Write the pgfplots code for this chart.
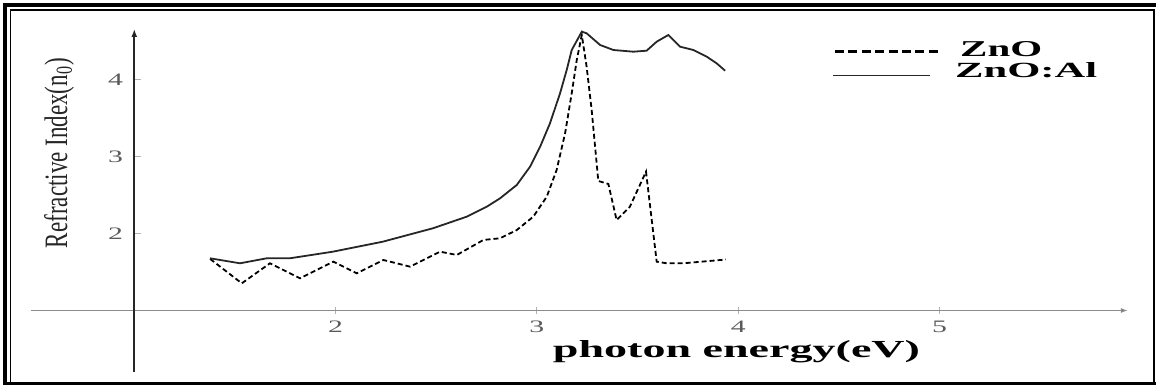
\documentclass[border=0pt]{standalone}
\usepackage{pgfplots}
\pgfplotsset{compat=1.18}
\usepackage{fontspec}
\setmainfont{Liberation Serif}
\usetikzlibrary{arrows.meta}
\newcommand{\tl}[1]{\scalebox{1.7}[1]{\fontsize{17.5pt}{18pt}\selectfont #1}}
\definecolor{tickgray}{HTML}{5A5A5A}
\begin{document}
\begin{tikzpicture}
\begin{scope}[x=1pt,y=1pt]
\useasboundingbox (0,0) rectangle (1156,387);
% double frame
\draw[line width=3.7pt] (1156,381.8) -- (5.2,381.8) -- (5.2,3.5) -- (1156,3.5);
\draw[line width=1.6pt] (10.3,3.5) -- (10.3,376.7) -- (1154.2,376.7) -- (1154.2,3.5);
% y label
\node[rotate=90, anchor=base, inner sep=0pt, text=black!85] at (67,234)
  {\resizebox{190pt}{23pt}{Refractive Index(n\textsubscript{0})}};
% x label
\node[anchor=base, inner sep=0pt] at (736.5,29)
  {\resizebox{367pt}{17pt}{\bfseries photon energy(eV)}};
% legend
\draw[line width=2.3pt, dash pattern=on 9pt off 4.4pt] (835,335.5) -- (942,335.5);
\node[anchor=base west, inner sep=0pt] at (960,330.5) {\resizebox{82pt}{15pt}{\bfseries ZnO}};
\draw[line width=1.5pt, black!85] (833,311.5) -- (930,311.5);
\node[anchor=base west, inner sep=0pt] at (955,309) {\resizebox{142pt}{15pt}{\bfseries ZnO:Al}};
\end{scope}
\begin{axis}[
  at={(134.3pt,76.5pt)}, anchor=origin,
  x=201.3pt, y=77pt,
  xmin=-0.513, xmax=4.936, ymin=-0.80, ymax=3.656,
  axis x line=middle, axis y line=middle,
  x axis line style={draw=black!45, line width=1.3pt, -{Latex[length=7pt,width=5pt,fill=black]}},
  y axis line style={draw=black!85, line width=2.3pt, -{Latex[length=8pt,width=6pt]}},
  x filter/.expression={x-1}, y filter/.expression={y-1},
  xtick={1,2,3,4}, xticklabels={\tl{2},\tl{3},\tl{4},\tl{5}},
  ytick={1,2,3}, yticklabels={\tl{2},\tl{3},\tl{4}},
  xtick align=center, ytick align=inside,
  major tick length=7pt,
  tick style={draw=black!30, line width=1pt},
  xticklabel style={inner sep=0pt, anchor=north, yshift=-7pt, text=tickgray},
  yticklabel style={inner sep=0pt, anchor=east, xshift=-11pt, text=tickgray},
  clip=false,
]
% ZnO (dashed)
\addplot[black, line width=1.8pt, dash pattern=on 5pt off 3pt] coordinates {
(1.377,1.669) (1.534,1.353) (1.674,1.613) (1.823,1.418) (1.989,1.634)
(2.105,1.483) (2.237,1.656) (2.370,1.569) (2.519,1.764) (2.602,1.721)
(2.734,1.916) (2.817,1.938) (2.900,2.045) (2.982,2.218) (3.049,2.478)
(3.098,2.825) (3.140,3.301) (3.173,3.821) (3.198,4.253) (3.223,4.578)
(3.247,4.166) (3.272,3.604) (3.305,2.682) (3.355,2.643) (3.396,2.175)
(3.462,2.348) (3.542,2.803) (3.595,1.634) (3.645,1.613) (3.727,1.613)
(3.939,1.662)
};
% ZnO:Al (solid)
\addplot[black!85, line width=1.8pt] coordinates {
(1.376,1.678) (1.525,1.613) (1.658,1.678) (1.773,1.678) (1.987,1.764)
(2.235,1.894) (2.484,2.068) (2.651,2.218) (2.751,2.348) (2.817,2.457)
(2.900,2.630) (2.966,2.868) (3.016,3.127) (3.065,3.431) (3.115,3.821)
(3.148,4.123) (3.173,4.383) (3.223,4.621) (3.247,4.600) (3.314,4.448)
(3.380,4.383) (3.479,4.361) (3.545,4.374) (3.595,4.491) (3.653,4.578)
(3.711,4.426) (3.777,4.383) (3.844,4.296) (3.893,4.210) (3.935,4.114)
};
\end{axis}
\end{tikzpicture}
\end{document}
